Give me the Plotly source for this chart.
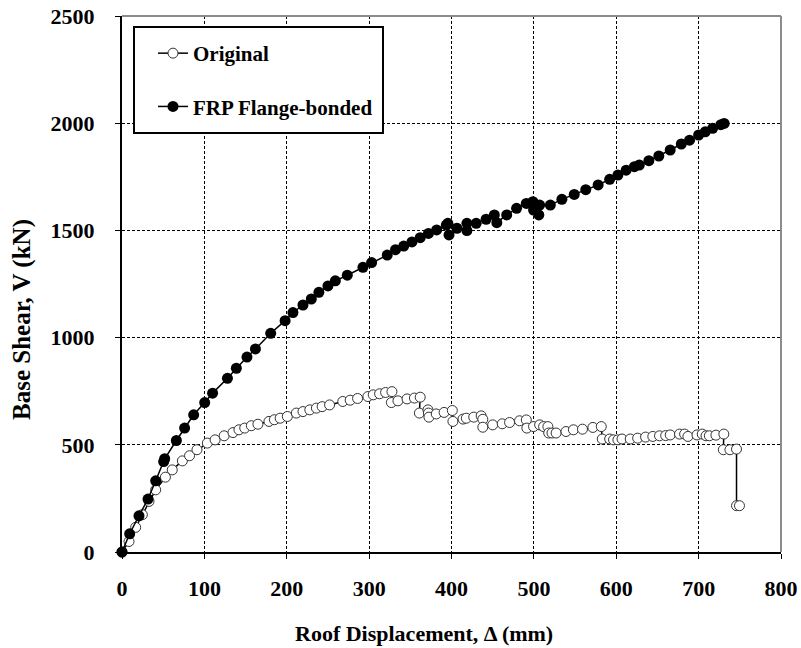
import plotly.graph_objects as go

# Original wall
orig_x = [0, 8.5, 16.6, 24.7, 32.8, 40.9, 52.7, 61, 73.3, 82, 91, 103.6, 113, 124, 134.7, 142, 149, 157, 165,
          178.4, 185, 192, 200.7, 211.6, 219.7, 228, 236, 243, 252, 268, 277, 286, 298.5, 305, 312.7, 320, 327.7,
          327, 335, 346, 355, 362, 361, 371.4, 372, 372.6, 381.5, 391, 401, 401.7, 414, 418, 427, 436, 438,
          438, 450, 461.6, 470.5, 482.6, 490.8, 491.5, 499.6, 507, 511.8, 517, 518, 522, 527, 539, 548, 559,
          571.6, 581.8, 583, 592, 596.7, 602, 607, 617, 626, 635.6, 644.4, 652.5, 660, 665.5, 676.8, 683, 687,
          698, 704.4, 709, 713, 721, 730.6, 730, 738, 746, 746, 749.6]
orig_y = [0, 49, 115, 174, 236, 290, 349, 383, 425, 449, 477, 508, 523, 542, 557, 570, 578, 589, 596,
          609, 617, 624, 632, 648, 655, 663, 671, 678, 686, 702, 708, 716, 725, 733, 738, 744, 748,
          697, 705, 714, 718, 722, 648, 663, 648, 629, 644, 651, 660, 609, 620, 624, 629, 635, 619,
          582, 593, 598, 604, 612, 616, 578, 585, 593, 585, 585, 555, 555, 555, 562, 570, 573,
          581, 585, 527, 527, 523, 523, 527, 527, 531, 536, 539, 542, 543, 546, 550, 550, 539,
          546, 550, 542, 542, 545, 550, 477, 477, 480, 216, 216]

# FRP flange-bonded wall
frp_x = [0, 9.3, 20.6, 31.6, 40.9, 50.6, 51.8, 66, 76, 87, 100.4, 110, 128, 138.8, 151.7, 162, 180.5, 198,
         207.5, 219.7, 229.8, 239, 250, 259, 273.5, 292.5, 303, 322, 332, 342, 352, 362, 372, 382, 393.7,
         395.6, 397, 406.6, 418.7, 418.7, 430, 442, 452, 455, 467, 479, 490.8, 498.8, 499.6, 506, 507, 520,
         534, 549, 563, 578, 592, 602, 612, 622, 628, 639.6, 651.7, 665.5, 679, 689, 700, 708, 717, 727, 731]
frp_y = [0, 85, 169, 247, 332, 422, 435, 520, 578, 640, 697, 741, 810, 857, 909, 947, 1020, 1079,
         1117, 1152, 1180, 1211, 1241, 1265, 1291, 1328, 1350, 1385, 1410, 1427, 1446, 1466, 1486, 1502, 1525,
         1533, 1479, 1510, 1499, 1533, 1533, 1552, 1572, 1536, 1572, 1603, 1626, 1634, 1595, 1572, 1618, 1618,
         1645, 1668, 1690, 1712, 1738, 1758, 1781, 1797, 1805, 1825, 1847, 1875, 1903, 1921, 1945, 1960, 1976, 1993, 1999]

x_ticks = [0, 100, 200, 300, 400, 500, 600, 700, 800]
y_ticks = [0, 500, 1000, 1500, 2000, 2500]

FONT = "Liberation Serif"
PW, PH = 659.0, 536.0  # plot area size in px
X0, Y0 = 122.0, 552.0  # plot origin in page px


def px_x(p):
    return (p - X0) / PW


def px_y(p):
    return (Y0 - p) / PH


fig = go.Figure()
fig.add_trace(go.Scatter(
    x=orig_x, y=orig_y, mode="lines+markers", name="Original", legendgroup="a",
    line=dict(color="black", width=1.5),
    marker=dict(symbol="circle", size=10, color="white", line=dict(color="#333333", width=1)),
    cliponaxis=False))
fig.add_trace(go.Scatter(
    x=frp_x, y=frp_y, mode="lines+markers", name="FRP Flange-bonded", legendgroup="b",
    line=dict(color="black", width=1.5),
    marker=dict(symbol="circle", size=11, color="black", line=dict(color="black", width=0)),
    cliponaxis=False))

axis_common = dict(
    showgrid=True, gridcolor="black", gridwidth=1, griddash="3px,2px",
    showline=True, linecolor="black", linewidth=2,
    ticks="outside", ticklen=5, tickcolor="black", tickwidth=1,
    tickfont=dict(family=FONT, size=22, color="black", weight="bold"),
    zeroline=False, mirror=False, automargin=False)

fig.update_xaxes(range=[0, 800], tickvals=x_ticks, ticktext=[str(v) for v in x_ticks],
                 ticklabelstandoff=11, **axis_common)
fig.update_yaxes(range=[0, 2500], tickvals=y_ticks, ticktext=[str(v) for v in y_ticks],
                 ticklabelstandoff=16, **axis_common)

# gray top and right frame
fig.add_shape(type="line", xref="paper", yref="paper", x0=0, x1=1, y0=1, y1=1,
              line=dict(color="#8c8c8c", width=2))
fig.add_shape(type="line", xref="paper", yref="paper", x0=1, x1=1, y0=0, y1=1,
              line=dict(color="#8c8c8c", width=2))

# legend frame
fig.add_shape(type="rect", xref="paper", yref="paper", layer="above",
              x0=px_x(134), x1=px_x(383), y0=px_y(133), y1=px_y(27),
              line=dict(color="black", width=2), fillcolor="white")

fig.add_annotation(text="Roof Displacement, Δ (mm)", xref="paper", yref="paper",
                   x=px_x(424), y=px_y(633), showarrow=False,
                   xanchor="center", yanchor="middle",
                   font=dict(family=FONT, size=22, color="black", weight="bold"))
fig.add_annotation(text="Base Shear, V (kN)", xref="paper", yref="paper",
                   x=px_x(22), y=px_y(320), showarrow=False, textangle=-90,
                   xanchor="center", yanchor="middle",
                   font=dict(family=FONT, size=25, color="black", weight="bold"))

fig.update_layout(
    width=801, height=648, autosize=False,
    margin=dict(l=122, r=20, t=16, b=96, pad=0),
    plot_bgcolor="white", paper_bgcolor="white",
    showlegend=True,
    legend=dict(x=px_x(153), y=px_y(33), xanchor="left", yanchor="top",
                bgcolor="rgba(0,0,0,0)", borderwidth=0,
                font=dict(family=FONT, size=21, color="black", weight="bold"),
                traceorder="grouped", tracegroupgap=23),
)

# remove the default page margin so the figure sits at the window's top-left corner
fig.write_html("out.html", config={"displayModeBar": False},
               post_script="document.body.style.margin='0';document.body.style.overflow='hidden';")
